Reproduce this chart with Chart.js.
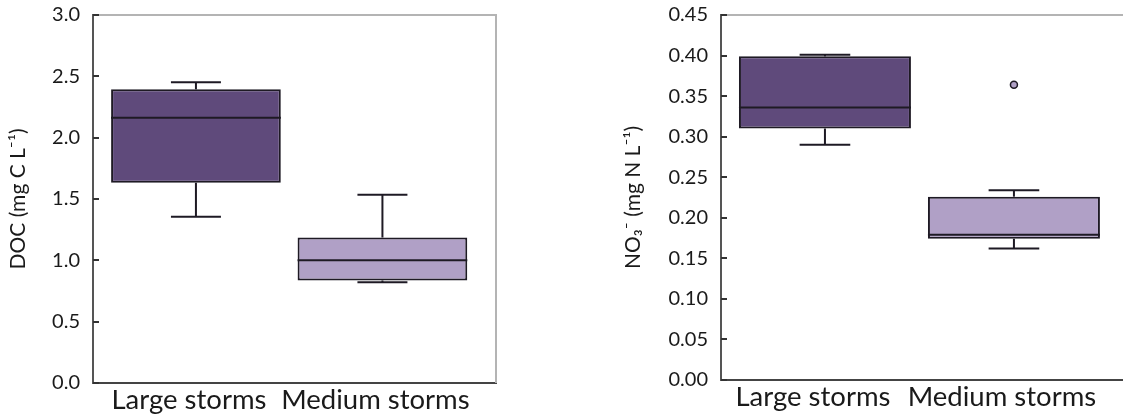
<!DOCTYPE html>
<html>
<head>
<meta charset="utf-8">
<script src="https://cdn.jsdelivr.net/npm/chart.js@4.4.1/dist/chart.umd.min.js"></script>
<style>
  html, body { margin: 0; padding: 0; background: #fff; overflow: hidden; }
  body { width: 1123px; height: 419px; position: relative; }
  .panel { position: absolute; top: 0; height: 419px; }
  #docPanel { left: 0; width: 520px; }
  #no3Panel { left: 600px; width: 600px; }
</style>
</head>
<body>
<div class="panel" id="docPanel"><canvas id="docChart"></canvas></div>
<div class="panel" id="no3Panel"><canvas id="no3Chart"></canvas></div>
<script>
// Categories shared by both panels
const categories = ['Large storms', 'Medium storms'];

// DOC (mg C L-1) box statistics
const docMin = [1.355, 0.822];
const docQ1 = [1.632, 0.836];
const docMedian = [2.163, 1.0];
const docQ3 = [2.394, 1.186];
const docMax = [2.452, 1.535];
const docOutliers = [[], []];
const docTicks = [0, 0.5, 1.0, 1.5, 2.0, 2.5, 3.0];

// NO3- (mg N L-1) box statistics
const no3Min = [0.290, 0.162];
const no3Q1 = [0.310, 0.174];
const no3Median = [0.336, 0.179];
const no3Q3 = [0.399, 0.226];
const no3Max = [0.401, 0.234];
const no3Outliers = [[], [0.364]];
const no3Ticks = [0, 0.05, 0.10, 0.15, 0.20, 0.25, 0.30, 0.35, 0.40, 0.45];

const boxColors = ['#5f4a7b', '#b0a0c6'];
const lineColor = '#1e1a24';
const textColor = '#1a1a1a';
const fontFamily = 'Lato, "Open Sans", sans-serif';

const BOX_HALF = 0.455;   // half box width, x units
const CAP_HALF = 0.134;   // half whisker cap width, x units

// frame (top/right in light grey) and inward y ticks
const framePlugin = {
    id: 'frame',
    afterDraw(chart) {
        const ctx = chart.ctx;
        const a = chart.chartArea;
        const y = chart.scales.y;
        ctx.save();
        ctx.lineWidth = 2;
        ctx.strokeStyle = '#b4b4b4';
        ctx.beginPath();
        ctx.moveTo(a.left, a.top);
        ctx.lineTo(a.right, a.top);
        ctx.lineTo(a.right, a.bottom);
        ctx.stroke();
        ctx.strokeStyle = '#333';
        ctx.beginPath();
        y.ticks.forEach(t => {
            const py = Math.round(y.getPixelForValue(t.value));
            ctx.moveTo(a.left, py);
            ctx.lineTo(a.left + 6, py);
        });
        ctx.stroke();
        ctx.restore();
    }
};

function segment(x1, y1, x2, y2) {
    return {
        type: 'line',
        data: [{ x: x1, y: y1 }, { x: x2, y: y2 }],
        borderColor: lineColor,
        borderWidth: 2,
        pointRadius: 0,
        fill: false,
        order: 0
    };
}

function buildDatasets(mins, q1s, medians, q3s, maxs, outliers) {
    const datasets = [{
        type: 'bar',
        data: categories.map((c, i) => ({ x: i + 1, y: [q1s[i], q3s[i]] })),
        backgroundColor: boxColors,
        borderColor: lineColor,
        borderWidth: 2,
        borderSkipped: false,
        barPercentage: BOX_HALF * 2,
        categoryPercentage: 1,
        order: 1
    }];
    categories.forEach((c, i) => {
        const x = i + 1;
        // median
        datasets.push(segment(x - BOX_HALF, medians[i], x + BOX_HALF, medians[i]));
        // upper whisker
        datasets.push(segment(x, q3s[i], x, maxs[i]));
        datasets.push(segment(x - CAP_HALF, maxs[i], x + CAP_HALF, maxs[i]));
        // lower whisker
        datasets.push(segment(x, q1s[i], x, mins[i]));
        datasets.push(segment(x - CAP_HALF, mins[i], x + CAP_HALF, mins[i]));
        if (outliers[i].length) {
            datasets.push({
                type: 'scatter',
                data: outliers[i].map(v => ({ x: x, y: v })),
                backgroundColor: boxColors[i],
                borderColor: lineColor,
                borderWidth: 1.5,
                pointRadius: 3.5,
                order: 0
            });
        }
    });
    return datasets;
}

function drawBoxChart(canvas, cfg) {
    new Chart(canvas, {
        type: 'bar',
        data: { datasets: buildDatasets(cfg.mins, cfg.q1s, cfg.medians, cfg.q3s, cfg.maxs, cfg.outliers) },
        plugins: [framePlugin],
        options: {
            responsive: true,
            maintainAspectRatio: false,
            animation: false,
            layout: { padding: { top: 15, right: cfg.padRight, left: 0, bottom: 0 } },
            plugins: { legend: { display: false }, tooltip: { enabled: false } },
            scales: {
                x: {
                    type: 'linear',
                    offset: false,
                    min: cfg.xMin,
                    max: cfg.xMax,
                    afterBuildTicks: s => { s.ticks = categories.map((c, i) => ({ value: i + 1 })); },
                    afterFit: s => { s.height = cfg.xHeight; },
                    ticks: {
                        callback: v => categories[v - 1],
                        font: { family: fontFamily, size: 27.5 },
                        color: textColor,
                        padding: 1,
                        labelOffset: cfg.labelShift,
                        maxRotation: 0,
                        autoSkip: false
                    },
                    grid: { display: false, drawTicks: false, offset: false },
                    border: { color: '#444', width: 2 }
                },
                y: {
                    min: 0,
                    max: cfg.ticks[cfg.ticks.length - 1],
                    afterBuildTicks: s => { s.ticks = cfg.ticks.map(v => ({ value: v })); },
                    afterFit: s => { s.width = cfg.yWidth; },
                    ticks: {
                        callback: v => v.toFixed(cfg.decimals),
                        font: { family: fontFamily, size: 20 },
                        color: textColor,
                        padding: 2
                    },
                    // invisible outer tick marks only give the label gap
                    grid: {
                        display: true,
                        drawOnChartArea: false,
                        drawTicks: true,
                        tickLength: 11,
                        tickColor: 'rgba(0,0,0,0)'
                    },
                    border: { color: '#555', width: 2 },
                    title: {
                        display: true,
                        text: cfg.title,
                        font: { family: fontFamily, size: 21 },
                        color: textColor,
                        padding: { top: cfg.titlePad, bottom: 0 }
                    }
                }
            }
        }
    });
}

drawBoxChart(document.getElementById('docChart'), {
    mins: docMin, q1s: docQ1, medians: docMedian, q3s: docQ3, maxs: docMax, outliers: docOutliers,
    ticks: docTicks, decimals: 1, title: 'DOC (mg C L⁻¹)',
    xMin: 0.448, xMax: 2.609, xHeight: 36, yWidth: 93, padRight: 24, titlePad: 5.5, labelShift: -7
});

drawBoxChart(document.getElementById('no3Chart'), {
    mins: no3Min, q1s: no3Q1, medians: no3Median, q3s: no3Q3, maxs: no3Max, outliers: no3Outliers,
    ticks: no3Ticks, decimals: 2, title: 'NO₃⁻ (mg N L⁻¹)',
    xMin: 0.450, xMax: 2.794, xHeight: 39, yWidth: 121, padRight: 36, titlePad: 20.5, labelShift: -12
});
</script>
</body>
</html>
